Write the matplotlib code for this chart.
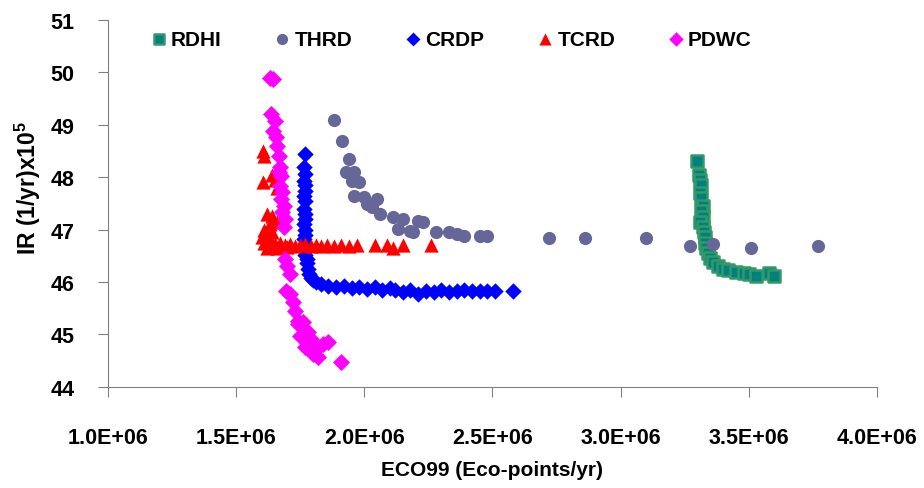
## Scatter of IR vs ECO99 for the five designs
import numpy as np
import matplotlib.pyplot as plt
from matplotlib.ticker import FormatStrFormatter

plt.rcParams['font.family'] = ['Liberation Sans', 'DejaVu Sans']
plt.rcParams['font.weight'] = 'bold'
plt.rcParams['mathtext.fontset'] = 'custom'
plt.rcParams['mathtext.bf'] = 'Liberation Sans:bold'
plt.rcParams['mathtext.rm'] = 'Liberation Sans:bold'

##Data, x in 1E6 eco-points/yr
rdhi_x = [3.30, 3.305, 3.31, 3.315, 3.31, 3.315, 3.32, 3.315, 3.32, 3.31, 3.32, 3.325,
          3.33, 3.33, 3.335, 3.34, 3.35, 3.36, 3.38, 3.40, 3.42, 3.45, 3.48, 3.50,
          3.53, 3.58, 3.60]
rdhi_y = [48.30, 48.05, 47.95, 47.85, 47.70, 47.60, 47.45, 47.35, 47.25, 47.15, 47.05, 46.95,
          46.85, 46.75, 46.65, 46.55, 46.45, 46.38, 46.30, 46.25, 46.22, 46.20, 46.18, 46.15,
          46.12, 46.17, 46.12]

thrd_x = [1.883, 1.914, 1.94, 1.93, 1.96, 1.95, 1.98, 1.96, 2.00, 2.01, 2.03, 2.05,
          2.06, 2.11, 2.15, 2.13, 2.18, 2.21, 2.23, 2.19, 2.28, 2.33, 2.36, 2.39,
          2.45, 2.48, 2.72, 2.86, 3.10, 3.27, 3.36, 3.51, 3.77]
thrd_y = [49.09, 48.69, 48.35, 48.10, 48.10, 47.93, 47.90, 47.64, 47.62, 47.49, 47.43, 47.58,
          47.30, 47.24, 47.20, 47.01, 46.97, 47.17, 47.15, 46.95, 46.95, 46.95, 46.92, 46.88,
          46.88, 46.88, 46.84, 46.84, 46.84, 46.69, 46.73, 46.65, 46.69]

crdp_x = [1.77, 1.765, 1.77, 1.765, 1.77, 1.77, 1.765, 1.77, 1.765, 1.77, 1.77, 1.765,
          1.77, 1.77, 1.765, 1.77, 1.775, 1.77, 1.775, 1.775, 1.78, 1.785, 1.79, 1.80,
          1.81, 1.83, 1.86, 1.89, 1.92, 1.95, 1.98, 2.01, 2.04, 2.07, 2.10, 2.12,
          2.15, 2.18, 2.21, 2.24, 2.27, 2.30, 2.33, 2.36, 2.39, 2.42, 2.45, 2.48,
          2.51, 2.58]
crdp_y = [48.44, 48.20, 48.06, 47.93, 47.85, 47.74, 47.65, 47.55, 47.40, 47.30, 47.20, 47.10,
          47.00, 46.90, 46.82, 46.72, 46.63, 46.52, 46.44, 46.36, 46.25, 46.15, 46.08, 46.03,
          46.00, 45.96, 45.92, 45.90, 45.92, 45.88, 45.90, 45.87, 45.90, 45.85, 45.88, 45.85,
          45.80, 45.85, 45.78, 45.83, 45.80, 45.85, 45.80, 45.83, 45.85, 45.83, 45.82, 45.83,
          45.83, 45.83]

tcrd_x = [1.605, 1.61, 1.605, 1.64, 1.65, 1.66, 1.62, 1.64, 1.66, 1.61, 1.63, 1.60,
          1.62, 1.64, 1.61, 1.63, 1.65, 1.67, 1.69, 1.71, 1.73, 1.75, 1.77, 1.79,
          1.81, 1.83, 1.855, 1.88, 1.91, 1.94, 1.97, 2.04, 2.09, 2.11, 2.15, 2.26,
          1.62, 1.66, 1.70]
tcrd_y = [48.50, 48.40, 47.90, 48.05, 47.95, 47.80, 47.30, 47.26, 47.15, 47.00, 47.10, 46.85,
          46.90, 46.95, 46.75, 46.80, 46.72, 46.75, 46.70, 46.72, 46.68, 46.70, 46.72, 46.68,
          46.70, 46.68, 46.70, 46.68, 46.70, 46.68, 46.70, 46.70, 46.70, 46.65, 46.70, 46.70,
          46.65, 46.65, 46.66]

pdwc_x = [1.63, 1.645, 1.635, 1.65, 1.645, 1.655, 1.66, 1.665, 1.67, 1.665, 1.675, 1.67,
          1.68, 1.675, 1.685, 1.68, 1.69, 1.685, 1.69, 1.70, 1.71, 1.695, 1.71, 1.72,
          1.73, 1.74, 1.74, 1.76, 1.75, 1.78, 1.79, 1.77, 1.81, 1.84, 1.80, 1.86,
          1.82, 1.91]
pdwc_y = [49.90, 49.87, 49.20, 49.07, 48.88, 48.77, 48.60, 48.40, 48.20, 48.10, 48.03, 47.83,
          47.72, 47.58, 47.45, 47.33, 47.20, 47.05, 46.44, 46.30, 46.15, 45.83, 45.77, 45.62,
          45.45, 45.26, 45.20, 45.24, 44.97, 45.05, 44.91, 44.76, 44.72, 44.82, 44.63, 44.86,
          44.57, 44.47]

fig = plt.figure(figsize=(9.24, 4.89), dpi=100)
ax = fig.add_axes([0.117, 0.207, 0.832, 0.750])

gray = '#808080'
ax.scatter(np.array(rdhi_x) * 1e6, rdhi_y, marker='s', s=75, c='#008080',
           edgecolors='#339966', linewidths=1.8, label='RDHI')
ax.scatter(np.array(thrd_x) * 1e6, thrd_y, marker='o', s=90, c='#666699',
           linewidths=0, label='THRD')
ax.scatter(np.array(crdp_x) * 1e6, crdp_y, marker='D', s=70, c='#0000FF',
           linewidths=0, label='CRDP')
ax.scatter(np.array(tcrd_x) * 1e6, tcrd_y, marker='^', s=105, c='#FF0000',
           linewidths=0, label='TCRD')
ax.scatter(np.array(pdwc_x) * 1e6, pdwc_y, marker='D', s=75, c='#FF00FF',
           linewidths=0, label='PDWC')

ax.set_xlim(1.0e6, 4.0e6)
ax.set_ylim(44, 51)
ax.set_xticks(np.arange(1.0e6, 4.01e6, 0.5e6))
ax.set_yticks(range(44, 52))
ax.xaxis.set_major_formatter(FormatStrFormatter('%.1E'))

for s in ['top', 'right']:
    ax.spines[s].set_visible(False)
for s in ['left', 'bottom']:
    ax.spines[s].set_color(gray)
ax.tick_params(axis='both', colors=gray, labelcolor='black', labelsize=15.5,
               direction='out', length=7)
ax.tick_params(axis='y', pad=17)
ax.tick_params(axis='x', pad=22)

ax.set_xlabel('ECO99 (Eco-points/yr)', fontsize=15, fontweight='bold')
ax.set_ylabel(r'IR (1/yr)x10$^{\mathbf{5}}$', fontsize=16.5, fontweight='bold')
ax.xaxis.set_label_coords(0.5, -0.2)
ax.yaxis.set_label_coords(-0.085, 0.545)

fig.legend(loc='center', bbox_to_anchor=(0.487, 0.918), ncol=5, frameon=False,
           fontsize=15, markerscale=0.85, handletextpad=0.1, columnspacing=2.4,
           handlelength=1.0)

plt.savefig('out.png')
